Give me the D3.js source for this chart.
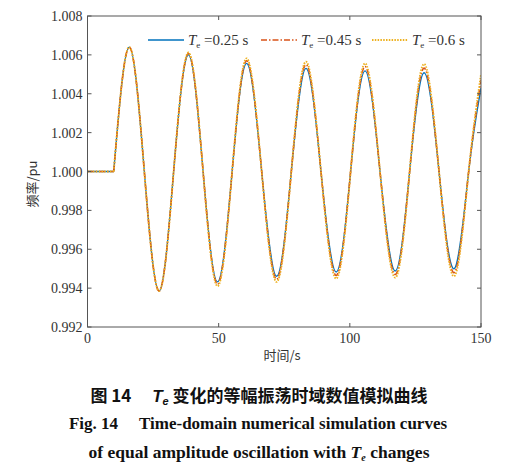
<!DOCTYPE html>
<html>
<head>
<meta charset="utf-8">
<script src="https://cdn.jsdelivr.net/npm/d3@7/dist/d3.min.js"></script>
<style>
  body { margin: 0; background: #fff; }
  svg { display: block; }
</style>
</head>
<body>
<script>
// Data: extrema and crossings of each curve
const timePoints = [0, 10, 15.9, 21.6, 27.3, 32.9, 38.5, 44.0, 49.6, 55.2, 60.7, 66.4, 72.1, 77.7,
  83.3, 89.0, 94.8, 100.3, 105.8, 111.5, 117.3, 122.8, 128.3, 134.0, 139.8, 145.3, 150];

const freq025 = [1.0000, 1.0000, 1.0064, 1.0001, 0.99385, 1.0001, 1.00600, 1.0001, 0.99432, 1.0001,
  1.00556, 1.0000, 0.99461, 1.0000, 1.00531, 1.0000, 0.99483, 1.0000, 1.00518, 1.0000, 0.99488,
  1.0000, 1.00508, 1.0000, 0.99500, 1.0000, 1.0043];
const freq045 = [1.0000, 1.0000, 1.0064, 1.0001, 0.99385, 1.0001, 1.00607, 1.0001, 0.99420, 1.0001,
  1.00570, 1.0000, 0.99445, 1.0000, 1.00550, 1.0000, 0.99465, 1.0000, 1.00540, 1.0000, 0.99470,
  1.0000, 1.00532, 1.0000, 0.99480, 1.0000, 1.0047];
const freq06 = [1.0000, 1.0000, 1.0064, 1.0001, 0.99385, 1.0001, 1.00612, 1.0001, 0.99410, 1.0001,
  1.00582, 1.0000, 0.99432, 1.0000, 1.00565, 1.0000, 0.99449, 1.0000, 1.00556, 1.0000, 0.99454,
  1.0000, 1.00553, 1.0000, 0.99461, 1.0000, 1.0050];

const seriesNames = ["0.25", "0.45", "0.6"];
const xTicks = [0, 50, 100, 150];
const yTicks = [0.992, 0.994, 0.996, 0.998, 1.000, 1.002, 1.004, 1.006, 1.008];

const width = 525, height = 476;
const plot = {left: 87.5, right: 481, top: 16, bottom: 327};
const serif = "'Liberation Serif', 'Times New Roman', serif";
const cjk = "'Noto Sans CJK SC', sans-serif";
const axisColor = "#555";

const svg = d3.select("body").append("svg")
  .attr("width", width)
  .attr("height", height);

const x = d3.scaleLinear().domain([0, 150]).range([plot.left, plot.right]);
const y = d3.scaleLinear().domain([0.992, 1.008]).range([plot.bottom, plot.top]);

svg.append("clipPath").attr("id", "clip")
  .append("rect")
  .attr("x", plot.left).attr("y", plot.top)
  .attr("width", plot.right - plot.left).attr("height", plot.bottom - plot.top);

// Curves: flat pre-disturbance part as straight line, oscillation as a smooth spline
const styles = [
  {values: freq025, color: "#0072BD", dash: null, w: 1.3},
  {values: freq045, color: "#D95319", dash: "6,2,1.5,2", w: 1.6},
  {values: freq06, color: "#EDB120", dash: "1.5,1.3", w: 1.9}
];
const flatLine = d3.line().x(d => x(d[0])).y(d => y(d[1]));
const waveLine = d3.line().x(d => x(d[0])).y(d => y(d[1])).curve(d3.curveNatural);
const curves = svg.append("g").attr("clip-path", "url(#clip)");
styles.forEach(s => {
  const pts = timePoints.map((t, i) => [t, s.values[i]]);
  [flatLine(pts.slice(0, 2)), waveLine(pts.slice(1))].forEach(d => {
    curves.append("path")
      .attr("d", d)
      .attr("fill", "none")
      .attr("stroke", s.color)
      .attr("stroke-width", s.w)
      .attr("stroke-dasharray", s.dash);
  });
});

// Box and inward ticks
svg.append("rect")
  .attr("x", plot.left).attr("y", plot.top)
  .attr("width", plot.right - plot.left).attr("height", plot.bottom - plot.top)
  .attr("fill", "none").attr("stroke", axisColor).attr("stroke-width", 1);

const tickLen = 4;
const ticks = svg.append("g").attr("stroke", axisColor).attr("stroke-width", 1);
xTicks.forEach(t => {
  ticks.append("line").attr("x1", x(t)).attr("x2", x(t)).attr("y1", plot.bottom).attr("y2", plot.bottom - tickLen);
  ticks.append("line").attr("x1", x(t)).attr("x2", x(t)).attr("y1", plot.top).attr("y2", plot.top + tickLen);
});
yTicks.forEach(t => {
  ticks.append("line").attr("x1", plot.left).attr("x2", plot.left + tickLen).attr("y1", y(t)).attr("y2", y(t));
  ticks.append("line").attr("x1", plot.right).attr("x2", plot.right - tickLen).attr("y1", y(t)).attr("y2", y(t));
});

const labels = svg.append("g").attr("font-family", serif).attr("font-size", 14).attr("fill", "#333");
xTicks.forEach(t => {
  labels.append("text").attr("x", x(t)).attr("y", plot.bottom + 16)
    .attr("text-anchor", "middle").text(t);
});
yTicks.forEach(t => {
  labels.append("text").attr("x", plot.left - 5).attr("y", y(t) + 5)
    .attr("text-anchor", "end").text(d3.format(".3f")(t));
});

// Axis titles
svg.append("text")
  .attr("x", 282).attr("y", 360)
  .attr("text-anchor", "middle")
  .attr("font-family", cjk).attr("font-size", 13).attr("fill", "#333")
  .text("时间/s");
svg.append("text")
  .attr("transform", "translate(37,184) rotate(-90)")
  .attr("text-anchor", "middle")
  .attr("font-family", cjk).attr("font-size", 13).attr("fill", "#333")
  .text("频率/pu");

// Legend
const legendX = [148, 261, 372];
const legend = svg.append("g").attr("font-family", serif).attr("font-size", 15).attr("fill", "#333");
styles.forEach((s, i) => {
  legend.append("line")
    .attr("x1", legendX[i]).attr("x2", legendX[i] + 36)
    .attr("y1", 40).attr("y2", 40)
    .attr("stroke", s.color).attr("stroke-width", s.w)
    .attr("stroke-dasharray", s.dash);
  const txt = legend.append("text").attr("x", legendX[i] + 40).attr("y", 45);
  txt.append("tspan").attr("font-style", "italic").text("T");
  txt.append("tspan").attr("font-size", 9).attr("dy", 3).text("e");
  txt.append("tspan").attr("dy", -3).text(" =" + seriesNames[i] + " s");
});

// Caption
const cap1 = svg.append("text")
  .attr("x", 259).attr("y", 402)
  .attr("text-anchor", "middle")
  .attr("font-family", cjk).attr("font-size", 17).attr("font-weight", "bold").attr("fill", "#111");
cap1.append("tspan").text("图 14\u2003 ");
cap1.append("tspan").attr("font-family", "'Liberation Sans', sans-serif").attr("font-style", "italic").text("T");
cap1.append("tspan").attr("font-family", "'Liberation Sans', sans-serif").attr("font-style", "italic")
  .attr("font-size", 11).attr("dy", 3).text("e");
cap1.append("tspan").attr("dy", -3).text(" 变化的等幅振荡时域数值模拟曲线");

svg.append("text")
  .attr("x", 258).attr("y", 429)
  .attr("text-anchor", "middle")
  .attr("font-family", serif).attr("font-size", 17).attr("font-weight", "bold").attr("fill", "#111")
  .text("Fig. 14\u2003 Time-domain numerical simulation curves");

const cap3 = svg.append("text")
  .attr("x", 259).attr("y", 458)
  .attr("text-anchor", "middle")
  .attr("font-family", serif).attr("font-size", 17.5).attr("font-weight", "bold").attr("fill", "#111");
cap3.append("tspan").text("of equal amplitude oscillation with ");
cap3.append("tspan").attr("font-style", "italic").text("T");
cap3.append("tspan").attr("font-size", 10).attr("font-style", "italic").attr("dy", 3).text("e");
cap3.append("tspan").attr("dy", -3).text(" changes");
</script>
</body>
</html>
